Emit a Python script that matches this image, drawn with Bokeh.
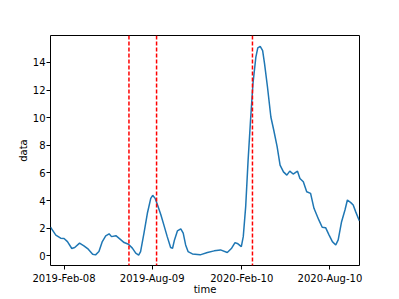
import pandas as pd
from bokeh.plotting import figure
from bokeh.models import Range1d, FixedTicker, DatetimeTickFormatter, Span
from bokeh.embed import file_html
from bokeh.resources import INLINE

dates = [
    "2019-01-11", "2019-01-22", "2019-02-01", "2019-02-08", "2019-02-15", "2019-02-24",
    "2019-03-02", "2019-03-12", "2019-03-21", "2019-03-30", "2019-04-08", "2019-04-14",
    "2019-04-21", "2019-04-28", "2019-05-05", "2019-05-12", "2019-05-17", "2019-05-26",
    "2019-06-03", "2019-06-12", "2019-06-21", "2019-06-29", "2019-07-06", "2019-07-12",
    "2019-07-16", "2019-07-23", "2019-07-30", "2019-08-06", "2019-08-10", "2019-08-15",
    "2019-08-20", "2019-08-27", "2019-09-02", "2019-09-09", "2019-09-16", "2019-09-20",
    "2019-09-24", "2019-09-30", "2019-10-07", "2019-10-12", "2019-10-17", "2019-10-22",
    "2019-10-31", "2019-11-16", "2019-12-01", "2019-12-15", "2019-12-28", "2020-01-11",
    "2020-01-20", "2020-01-27", "2020-02-02", "2020-02-09", "2020-02-13", "2020-02-18",
    "2020-02-23", "2020-02-28", "2020-03-04", "2020-03-10", "2020-03-14", "2020-03-19",
    "2020-03-24", "2020-03-28", "2020-04-03", "2020-04-10", "2020-04-16", "2020-04-23",
    "2020-04-29", "2020-05-06", "2020-05-13", "2020-05-19", "2020-05-26", "2020-06-04",
    "2020-06-09", "2020-06-16", "2020-06-23", "2020-07-01", "2020-07-08", "2020-07-18",
    "2020-07-25", "2020-08-01", "2020-08-08", "2020-08-15", "2020-08-22", "2020-08-27",
    "2020-09-03", "2020-09-10", "2020-09-15", "2020-09-22", "2020-09-27", "2020-10-02",
    "2020-10-09", "2020-10-10",
]
values = [
    2.07, 1.50, 1.28, 1.25, 1.03, 0.53,
    0.60, 0.92, 0.72, 0.48, 0.12, 0.07,
    0.31, 1.03, 1.44, 1.59, 1.39, 1.46,
    1.23, 0.96, 0.84, 0.56, 0.19, 0.05,
    0.31, 1.64, 3.08, 4.16, 4.38, 4.16,
    3.68, 2.96, 2.24, 1.39, 0.60, 0.55,
    1.15, 1.80, 1.95, 1.64, 0.79, 0.31,
    0.14, 0.07, 0.24, 0.36, 0.43, 0.24,
    0.55, 0.96, 0.87, 0.67, 1.39, 3.56,
    6.93, 9.81, 12.46, 14.38, 15.06, 15.17,
    14.86, 13.90, 12.22, 10.05, 9.09, 7.89,
    6.57, 6.08, 5.84, 6.13, 5.92, 6.13,
    5.60, 5.36, 4.64, 4.52, 3.44, 2.60,
    2.07, 2.04, 1.52, 1.03, 0.79, 1.15,
    2.47, 3.32, 4.04, 3.85, 3.68, 3.20,
    2.60, 2.53,
]
event_dates = ["2019-06-22", "2019-08-18", "2020-03-03"]
tick_dates = ["2019-02-08", "2019-08-09", "2020-02-10", "2020-08-10"]
y_ticks = [0, 2, 4, 6, 8, 10, 12, 14]
x_start, x_end = "2019-01-11", "2020-10-10"
y_start, y_end = -0.70, 15.95

x = pd.to_datetime(dates)
font = "DejaVu Sans"

p = figure(width=399, height=297, x_axis_type="datetime",
           output_backend="svg", toolbar_location=None,
           x_range=Range1d(pd.Timestamp(x_start), pd.Timestamp(x_end)),
           y_range=Range1d(y_start, y_end),
           min_border_left=50, min_border_right=40,
           min_border_top=35, min_border_bottom=31)

p.line(x, values, line_color="#1f77b4", line_width=1.5)

for d in event_dates:
    p.add_layout(Span(location=pd.Timestamp(d), dimension="height",
                      line_color="red", line_width=1.5, line_dash="4 2"))

p.xgrid.visible = False
p.ygrid.visible = False
p.outline_line_color = "black"
p.outline_line_width = 1
p.outline_line_alpha = 1

p.xaxis.ticker = FixedTicker(ticks=[pd.Timestamp(t).value / 1e6 for t in tick_dates])
p.xaxis.formatter = DatetimeTickFormatter(days="%Y-%b-%d", months="%Y-%b-%d",
                                          years="%Y-%b-%d")
p.yaxis.ticker = FixedTicker(ticks=y_ticks)

p.xaxis.axis_label = "time"
p.yaxis.axis_label = "data"

for ax in (p.xaxis, p.yaxis):
    ax.axis_line_color = None
    ax.major_tick_out = 4
    ax.major_tick_in = 0
    ax.minor_tick_out = 0
    ax.minor_tick_in = 0
    ax.major_tick_line_color = "black"
    ax.major_label_text_font = font
    ax.major_label_text_font_size = "10px"
    ax.major_label_text_color = "black"
    ax.axis_label_text_font = font
    ax.axis_label_text_font_size = "10px"
    ax.axis_label_text_font_style = "normal"
    ax.axis_label_text_color = "black"

p.xaxis.major_label_standoff = 3
p.xaxis.axis_label_standoff = -3
p.yaxis.major_label_standoff = 1
p.yaxis.axis_label_standoff = 1

open("out.html", "w").write(file_html(p, INLINE))
